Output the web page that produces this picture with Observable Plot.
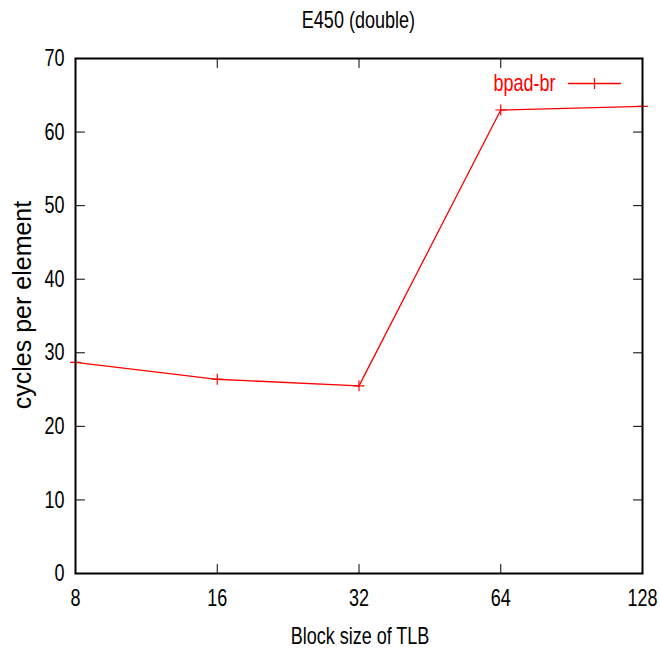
<!DOCTYPE html>
<html>
<head>
<meta charset="utf-8">
<script src="https://cdn.jsdelivr.net/npm/d3@7"></script>
<script src="https://cdn.jsdelivr.net/npm/@observablehq/plot@0.6"></script>
<style>
  html, body { margin: 0; padding: 0; background: #fff; }
  #wrap { width: 660px; height: 651px; position: relative; overflow: hidden; }
  #title { position: absolute; left: 75px; width: 567px; top: 0; height: 40px; line-height: 40px;
           text-align: center; font-family: 'Liberation Sans', Arial, sans-serif;
           font-size: 24px; color: #000; }
  #title span { display: inline-block; transform: scaleX(0.75); transform-origin: 50% 50%; }
  #chart { position: absolute; left: 0; top: 40px; }
</style>
</head>
<body>
<div id="wrap">
  <div id="title"><span></span></div>
  <div id="chart"></div>
</div>
<script>
// ---- data ----
const titleText = "E450 (double)";
const xLabel = "Block size of TLB";
const yLabel = "cycles per element";
const seriesName = "bpad-br";
const blockSizes = [8, 16, 32, 64, 128];
const cycles = [28.7, 26.4, 25.5, 63.0, 63.5];
const xTicks = [8, 16, 32, 64, 128];
const yTicks = [0, 10, 20, 30, 40, 50, 60, 70];

// ---- build ----
const FONT = "'Liberation Sans', Arial, sans-serif";
const RED = "#ff0000";
const SQUEEZE = 0.75;
document.querySelector("#title span").textContent = titleText;

const table = blockSizes.map((b, i) => ({block: b, cpe: cycles[i]}));
const tickShape = {draw(context, l) { context.moveTo(0, 0); context.lineTo(0, -l); }};
const TL = 9;

const chart = Plot.plot({
  width: 660,
  height: 611,
  marginTop: 18,
  marginBottom: 78,
  marginLeft: 75,
  marginRight: 18,
  x: {type: "log", base: 2, domain: [8, 128]},
  y: {domain: [0, 70]},
  style: {fontFamily: FONT, fontSize: "24px", color: "#000", background: "#fff", overflow: "visible"},
  marks: [
    // tick labels
    Plot.axisX(xTicks, {tickSize: 0, tickPadding: 15, tickFormat: d => String(d), label: null, fontSize: 24}),
    Plot.axisY(yTicks, {tickSize: 0, tickPadding: 11, tickFormat: d => String(d), label: null, fontSize: 24}),
    // inward ticks on all four sides
    Plot.vector(xTicks, {x: d => d, frameAnchor: "bottom", length: TL, rotate: 0, anchor: "start", shape: tickShape, stroke: "#000", strokeWidth: 1}),
    Plot.vector(xTicks, {x: d => d, frameAnchor: "top", length: TL, rotate: 180, anchor: "start", shape: tickShape, stroke: "#000", strokeWidth: 1}),
    Plot.vector(yTicks, {y: d => d, frameAnchor: "left", length: TL, rotate: 90, anchor: "start", shape: tickShape, stroke: "#000", strokeWidth: 1}),
    Plot.vector(yTicks, {y: d => d, frameAnchor: "right", length: TL, rotate: -90, anchor: "start", shape: tickShape, stroke: "#000", strokeWidth: 1}),
    // axis titles
    Plot.text([xLabel], {text: d => d, frameAnchor: "bottom", dx: 1, dy: 63, textAnchor: "middle", fontSize: 24, fill: "#000", lineAnchor: "middle"}),
    Plot.text([yLabel], {text: d => d, frameAnchor: "left", dx: -53, dy: -11, rotate: -90, textAnchor: "middle", fontSize: 25, fill: "#000", lineAnchor: "middle"}),
    // data
    Plot.line(table, {x: "block", y: "cpe", stroke: RED, strokeWidth: 1.3}),
    Plot.dot(table, {x: "block", y: "cpe", symbol: "plus", r: 3.6, stroke: RED, strokeWidth: 1.2}),
    // legend
    Plot.text([seriesName], {text: d => d, frameAnchor: "top-right", dx: -87, dy: 25, textAnchor: "end", lineAnchor: "middle", fill: RED, fontSize: 24}),
    Plot.vector([seriesName], {frameAnchor: "top-right", dx: -74, dy: 25, length: 52, rotate: 90, anchor: "start", shape: tickShape, stroke: RED, strokeWidth: 1.3}),
    Plot.dot([seriesName], {frameAnchor: "top-right", dx: -48, dy: 25, symbol: "plus", r: 3.6, stroke: RED, strokeWidth: 1.2}),
    // frame
    Plot.frame({stroke: "#000", strokeWidth: 2})
  ]
});
document.getElementById("chart").appendChild(chart);

// condense glyphs horizontally (the reference uses a narrow face), except the rotated y label
chart.querySelectorAll("text").forEach(t => {
  if (t.textContent === yLabel) return;
  const L = t.getComputedTextLength();
  if (L > 0) {
    t.setAttribute("textLength", (L * SQUEEZE).toFixed(2));
    t.setAttribute("lengthAdjust", "spacingAndGlyphs");
  }
});
</script>
</body>
</html>
